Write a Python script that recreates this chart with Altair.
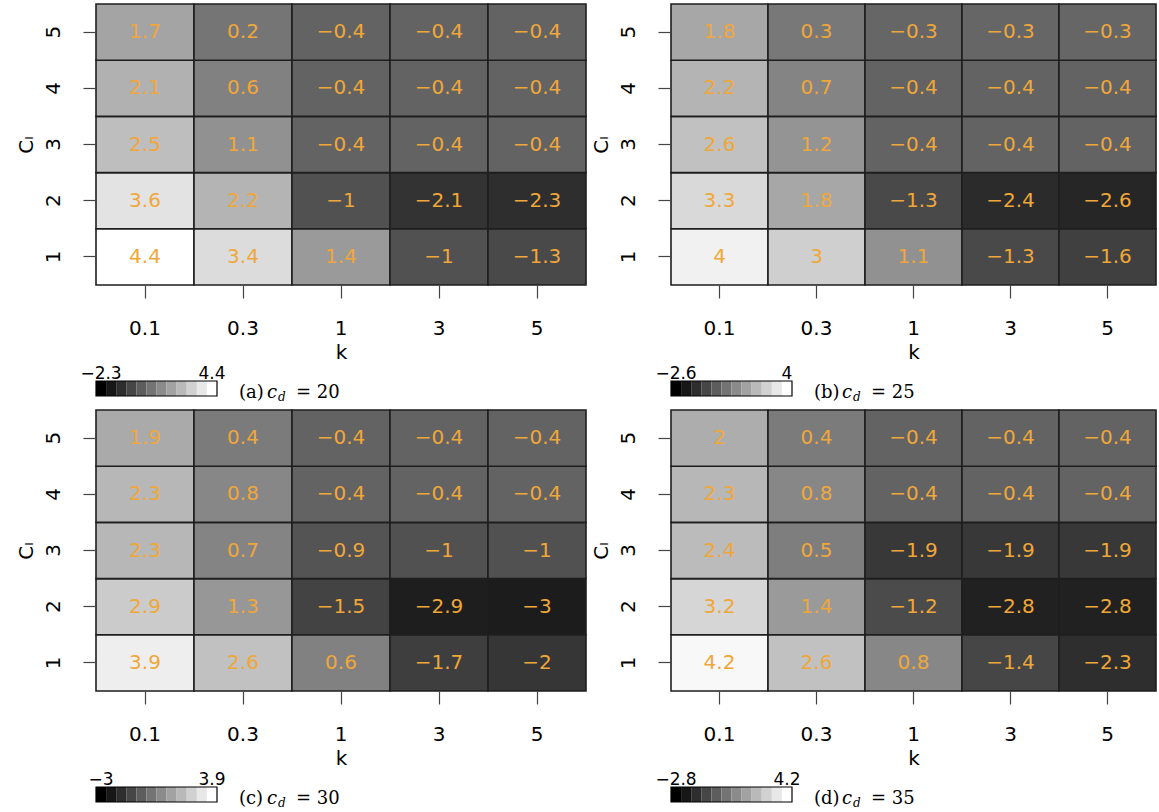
import altair as alt
import pandas as pd

k_values = ["0.1", "0.3", "1", "3", "5"]
cl_values = ["1", "2", "3", "4", "5"]
panel_tags = ["(a)", "(b)", "(c)", "(d)"]
cd_values = ["20", "25", "30", "35"]

# rows: Cl = 1..5 ; columns: k = 0.1, 0.3, 1, 3, 5
grid_a = [
    [4.4, 3.4, 1.4, -1, -1.3],
    [3.6, 2.2, -1, -2.1, -2.3],
    [2.5, 1.1, -0.4, -0.4, -0.4],
    [2.1, 0.6, -0.4, -0.4, -0.4],
    [1.7, 0.2, -0.4, -0.4, -0.4],
]
grid_b = [
    [4, 3, 1.1, -1.3, -1.6],
    [3.3, 1.8, -1.3, -2.4, -2.6],
    [2.6, 1.2, -0.4, -0.4, -0.4],
    [2.2, 0.7, -0.4, -0.4, -0.4],
    [1.8, 0.3, -0.3, -0.3, -0.3],
]
grid_c = [
    [3.9, 2.6, 0.6, -1.7, -2],
    [2.9, 1.3, -1.5, -2.9, -3],
    [2.3, 0.7, -0.9, -1, -1],
    [2.3, 0.8, -0.4, -0.4, -0.4],
    [1.9, 0.4, -0.4, -0.4, -0.4],
]
grid_d = [
    [4.2, 2.6, 0.8, -1.4, -2.3],
    [3.2, 1.4, -1.2, -2.8, -2.8],
    [2.4, 0.5, -1.9, -1.9, -1.9],
    [2.3, 0.8, -0.4, -0.4, -0.4],
    [2, 0.4, -0.4, -0.4, -0.4],
]
grids = [grid_a, grid_b, grid_c, grid_d]

ORANGE = "#f0a73a"
SANS = "DejaVu Sans"
SERIF = "DejaVu Serif"
N_STEPS = 12
BAR_W = 121
BAR_Y0, BAR_Y1 = 377, 392
CAP_Y = 394
CAP_X = 143
PANEL_H = 281


def fmt(v):
    return f"{v:g}".replace("-", "\u2212")


def panel(tag, cd, grid, width):
    rows = []
    for i, cl in enumerate(cl_values):
        for j, k in enumerate(k_values):
            v = grid[i][j]
            rows.append({"k": k, "Cl": cl, "v": v, "lab": fmt(v)})
    df = pd.DataFrame(rows)
    flat = [v for r in grid for v in r]
    vmin, vmax = min(flat), max(flat)

    x = alt.X(
        "k:O", sort=k_values, title="k",
        scale=alt.Scale(paddingInner=0, paddingOuter=0),
        axis=alt.Axis(labelAngle=0, labelFont=SANS, labelFontSize=20, labelColor="black",
                      tickSize=13, tickColor="#444", tickWidth=1.2, domain=False,
                      labelPadding=20, titleFont=SANS, titleFontSize=20,
                      titleFontWeight="normal", titleColor="black", titlePadding=4),
    )
    y = alt.Y(
        "Cl:O", sort=cl_values[::-1], title="C\u2097",
        scale=alt.Scale(paddingInner=0, paddingOuter=0),
        axis=alt.Axis(labelAngle=270, labelFont=SANS, labelFontSize=20, labelColor="black",
                      tickSize=13, tickColor="#444", tickWidth=1.2, domain=False,
                      labelPadding=20, titleFont=SANS, titleFontSize=20,
                      titleFontWeight="normal", titleColor="black", titlePadding=7),
    )
    heat = alt.Chart(df).mark_rect(stroke="#1e1e1e", strokeWidth=1.6).encode(
        x=x, y=y,
        color=alt.Color("v:Q", scale=alt.Scale(domain=[vmin, vmax], range=["#1c1c1c", "#ffffff"]),
                        legend=None),
    )
    text = alt.Chart(df).mark_text(color=ORANGE, font=SANS, fontSize=20).encode(
        x=x, y=y, text="lab:N"
    )
    main = alt.layer(heat, text)

    steps = pd.DataFrame({
        "s": list(range(N_STEPS)),
        "s2": [i + 1 for i in range(N_STEPS)],
        "g": ["#%02x%02x%02x" % ((round(255 * i / (N_STEPS - 1)),) * 3) for i in range(N_STEPS)],
    })
    sx = alt.X("s:Q", scale=alt.Scale(domain=[0, N_STEPS], range=[0, BAR_W]), axis=None)
    bar = alt.Chart(steps).mark_rect().encode(
        x=sx, x2="s2", y=alt.value(BAR_Y0), y2=alt.value(BAR_Y1),
        fill=alt.Fill("g:N", scale=None),
    )
    border = alt.Chart(pd.DataFrame({"s": [0], "s2": [N_STEPS]})).mark_rect(
        filled=False, stroke="black", strokeWidth=1.2
    ).encode(x=sx, x2="s2", y=alt.value(BAR_Y0), y2=alt.value(BAR_Y1))
    lab_df = pd.DataFrame({"s": [0.5, N_STEPS - 0.5], "lab": [fmt(vmin), fmt(vmax)]})
    labs = alt.Chart(lab_df).mark_text(font=SANS, fontSize=17, baseline="alphabetic",
                                       color="black").encode(
        x=sx, y=alt.value(BAR_Y0 - 2), text="lab:N"
    )
    one = pd.DataFrame({"a": [0]})
    cap1 = alt.Chart(one).mark_text(font=SERIF, fontSize=18, align="left",
                                    baseline="alphabetic", color="black").encode(
        x=alt.value(CAP_X), y=alt.value(CAP_Y), text=alt.value(tag))
    cap2 = alt.Chart(one).mark_text(font=SERIF, fontSize=18, fontStyle="italic", align="left",
                                    baseline="alphabetic", color="black").encode(
        x=alt.value(CAP_X + 28), y=alt.value(CAP_Y), text=alt.value("c"))
    cap3 = alt.Chart(one).mark_text(font=SERIF, fontSize=12, fontStyle="italic", align="left",
                                    baseline="alphabetic", color="black").encode(
        x=alt.value(CAP_X + 39), y=alt.value(CAP_Y + 3), text=alt.value("d"))
    cap4 = alt.Chart(one).mark_text(font=SERIF, fontSize=18, align="left",
                                    baseline="alphabetic", color="black").encode(
        x=alt.value(CAP_X + 57), y=alt.value(CAP_Y), text=alt.value("= " + cd))
    leg = alt.layer(bar, border, labs, cap1, cap2, cap3, cap4)

    return alt.layer(main, leg).resolve_scale(x="independent").properties(
        width=width, height=PANEL_H
    )


pa = panel(panel_tags[0], cd_values[0], grids[0], 490)
pb = panel(panel_tags[1], cd_values[1], grids[1], 485)
pc = panel(panel_tags[2], cd_values[2], grids[2], 490)
pd_ = panel(panel_tags[3], cd_values[3], grids[3], 485)

row1 = alt.hconcat(pa, pb, spacing=3)
row2 = alt.hconcat(pc, pd_, spacing=3)
chart = alt.vconcat(row1, row2, spacing=6).properties(
    padding={"left": 15, "top": 3, "right": 0, "bottom": 0}
).configure_view(stroke=None)

chart.save("out.html", embed_options={"renderer": "svg", "actions": False})
